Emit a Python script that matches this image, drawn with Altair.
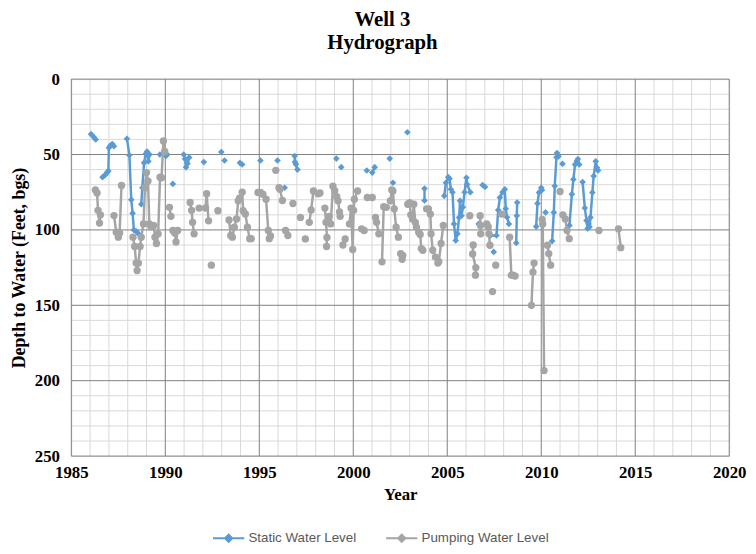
import altair as alt
import pandas as pd

SERIES = ["Static Water Level", "Pumping Water Level"]
COLORS = ["#5B9BD5", "#A5A5A5"]

x_ticks = [1985, 1990, 1995, 2000, 2005, 2010, 2015, 2020]
y_ticks = [0, 50, 100, 150, 200, 250]
minor_x = [y for y in range(1985, 2021) if y % 5 != 0]
minor_y = [d for d in range(0, 251, 10) if d % 50 != 0]

# (year, depth) points; each inner list is one connected run of the series
static_segments = [
    [(1986.05, 36.5), (1986.2, 38.5), (1986.3, 40.0)],
    [(1986.66, 65.0), (1986.8, 63.5), (1986.9, 62.0), (1986.97, 61.0), (1987.0, 45.5), (1987.08, 44.0), (1987.18, 43.0), (1987.27, 44.5)],
    [(1987.96, 39.5), (1988.09, 50.5), (1988.19, 80.0), (1988.26, 89.0), (1988.33, 100.0), (1988.45, 101.0), (1988.57, 102.5)],
    [(1988.72, 83.0), (1988.78, 72.0), (1988.87, 55.5), (1988.96, 49.5), (1989.03, 48.0), (1989.1, 54.5), (1989.16, 50.0)],
    [(1989.71, 50.0)],
    [(1989.98, 48.5), (1990.03, 51.0), (1990.1, 50.0)],
    [(1990.4, 69.5)],
    [(1990.98, 50.0), (1991.05, 53.0), (1991.1, 58.5), (1991.18, 56.0), (1991.27, 52.0)],
    [(1992.05, 55.0)],
    [(1992.98, 48.3)],
    [(1993.15, 54.0)],
    [(1993.97, 55.5), (1994.09, 56.6)],
    [(1995.06, 54.0)],
    [(1995.97, 54.0)],
    [(1996.35, 72.0)],
    [(1996.88, 51.0), (1996.9, 55.0), (1996.95, 56.5), (1997.03, 60.0)],
    [(1999.1, 52.7)],
    [(1999.36, 58.4)],
    [(2000.72, 60.6)],
    [(2001.01, 62.0), (2001.14, 58.4)],
    [(2001.94, 52.7)],
    [(2002.11, 68.7)],
    [(2002.88, 35.2)],
    [(2003.79, 72.5), (2003.79, 80.5)],
    [(2004.84, 77.4), (2004.93, 68.7), (2005.05, 65.0), (2005.12, 66.0), (2005.19, 73.0), (2005.28, 75.0), (2005.36, 96.0),
     (2005.45, 107.0), (2005.54, 102.6), (2005.63, 91.7), (2005.68, 80.7), (2005.76, 90.6), (2005.83, 85.0), (2005.92, 75.0),
     (2006.02, 65.4), (2006.06, 69.8), (2006.23, 75.0)],
    [(2006.67, 96.0)],
    [(2006.88, 70.2), (2007.01, 71.5)],
    [(2007.3, 103.7), (2007.62, 103.7), (2007.71, 86.8), (2007.8, 78.5), (2007.94, 75.0), (2008.06, 73.0), (2008.11, 86.0),
     (2008.18, 91.6), (2008.28, 96.0)],
    [(2007.47, 114.6)],
    [(2008.72, 81.8), (2008.7, 90.6), (2008.67, 108.7)],
    [(2009.73, 97.8), (2009.8, 82.5), (2009.88, 75.2), (2010.0, 72.0), (2010.04, 73.5)],
    [(2010.23, 88.4)],
    [(2010.58, 107.4), (2010.67, 88.4), (2010.72, 70.9), (2010.81, 51.8), (2010.84, 49.0), (2010.92, 51.2)],
    [(2011.13, 56.2)],
    [(2011.5, 97.0), (2011.63, 76.3), (2011.71, 66.5), (2011.8, 56.6), (2011.89, 54.5), (2011.95, 53.0), (2012.02, 56.6)],
    [(2012.2, 68.2), (2012.32, 85.5), (2012.41, 93.8), (2012.47, 99.0), (2012.52, 96.0), (2012.57, 98.0), (2012.62, 91.7),
     (2012.72, 75.2), (2012.79, 64.3), (2012.9, 54.5), (2012.97, 58.8), (2013.02, 60.6)],
]

pumping_segments = [
    [(1986.28, 73.5), (1986.37, 75.5), (1986.42, 87.0), (1986.5, 95.5), (1986.55, 90.0)],
    [(1987.27, 90.5), (1987.39, 101.5), (1987.5, 104.8), (1987.57, 102.0), (1987.67, 70.5)],
    [(1988.28, 104.8), (1988.37, 111.0), (1988.45, 122.0), (1988.5, 127.0), (1988.57, 122.0), (1988.66, 111.0), (1988.72, 104.8),
     (1988.84, 96.0), (1988.92, 72.0), (1989.0, 62.0), (1989.08, 67.6), (1989.15, 96.0), (1989.24, 98.0)],
    [(1989.38, 97.0), (1989.45, 104.8), (1989.53, 109.0), (1989.62, 102.6), (1989.72, 65.0), (1989.8, 65.4), (1989.9, 41.0), (1989.97, 48.0)],
    [(1990.22, 85.0), (1990.3, 91.0)],
    [(1990.4, 100.4), (1990.5, 102.0), (1990.57, 108.0), (1990.66, 100.4)],
    [(1991.32, 81.8), (1991.4, 87.0), (1991.45, 95.0), (1991.53, 102.6)],
    [(1991.8, 85.5), (1992.14, 85.5), (1992.2, 76.0), (1992.3, 94.0)],
    [(1992.45, 123.4)],
    [(1992.8, 87.3)],
    [(1993.39, 93.4), (1993.48, 103.7), (1993.57, 104.8), (1993.67, 98.2), (1993.79, 92.7), (1993.88, 80.7), (1993.95, 79.0),
     (1994.09, 75.0), (1994.14, 87.3), (1994.26, 89.4), (1994.37, 98.2), (1994.49, 105.8), (1994.57, 105.8)],
    [(1994.93, 75.2), (1995.06, 75.2), (1995.19, 76.3), (1995.36, 79.6), (1995.48, 100.4), (1995.53, 105.8), (1995.6, 104.0)],
    [(1995.88, 60.5)],
    [(1996.05, 72.0), (1996.1, 73.0), (1996.23, 80.5)],
    [(1996.4, 100.4), (1996.52, 103.7)],
    [(1996.79, 82.5)],
    [(1997.19, 91.7)],
    [(1997.45, 106.0)],
    [(1997.66, 95.0), (1997.76, 86.8), (1997.88, 74.2)],
    [(1998.13, 76.0), (1998.23, 75.5)],
    [(1998.49, 85.5), (1998.55, 95.0), (1998.6, 105.0), (1998.58, 111.0)],
    [(1998.72, 91.0), (1998.8, 96.0), (1998.92, 71.0), (1999.01, 74.0), (1999.12, 78.0), (1999.19, 80.7), (1999.27, 88.0), (1999.3, 91.0)],
    [(1999.45, 110.0), (1999.57, 106.0)],
    [(1999.8, 96.0), (1999.88, 85.5), (1999.97, 113.0), (2000.02, 87.0), (2000.06, 79.6), (2000.23, 74.2)],
    [(2000.44, 99.3), (2000.58, 100.4)],
    [(2000.75, 78.5), (2001.01, 78.5)],
    [(2001.18, 91.7), (2001.24, 95.0), (2001.36, 102.6)],
    [(2001.53, 121.2), (2001.62, 84.6), (2001.76, 85.0)],
    [(2001.97, 80.7), (2002.05, 73.5), (2002.11, 74.2), (2002.18, 86.0), (2002.28, 98.2), (2002.4, 104.8)],
    [(2002.52, 115.7), (2002.6, 119.5), (2002.63, 117.0)],
    [(2002.9, 83.0), (2003.0, 82.0), (2003.06, 90.0), (2003.15, 92.7), (2003.22, 83.0), (2003.3, 95.0), (2003.36, 98.2),
     (2003.48, 101.5), (2003.56, 103.0), (2003.62, 112.4), (2003.7, 113.5)],
    [(2003.9, 86.0), (2004.0, 86.0), (2004.1, 89.5), (2004.14, 102.6), (2004.23, 113.5), (2004.37, 118.0), (2004.5, 122.0),
     (2004.55, 121.0), (2004.67, 109.0), (2004.79, 97.0)],
    [(2006.2, 90.6)],
    [(2006.38, 110.0), (2006.35, 116.0), (2006.52, 125.0), (2006.5, 130.0)],
    [(2006.75, 90.6), (2006.77, 97.0), (2006.78, 102.6)],
    [(2007.1, 96.0), (2007.18, 98.0), (2007.22, 102.6), (2007.27, 110.2)],
    [(2007.41, 140.9)],
    [(2007.58, 123.4)],
    [(2007.9, 89.5)],
    [(2008.32, 104.8), (2008.41, 130.0), (2008.5, 130.0), (2008.61, 130.6)],
    [(2009.62, 122.0), (2009.56, 128.0), (2009.48, 150.0)],
    [(2010.05, 93.0), (2010.08, 96.0), (2010.15, 193.3)],
    [(2010.33, 110.2), (2010.4, 115.7), (2010.5, 123.4)],
    [(2011.0, 74.5)],
    [(2011.15, 90.0), (2011.28, 92.7), (2011.37, 100.4), (2011.49, 105.8)],
    [(2013.07, 100.4)],
    [(2014.11, 99.3), (2014.23, 111.8)],
]

rows = []
for name, segs in zip(SERIES, [static_segments, pumping_segments]):
    for s, seg in enumerate(segs):
        for i, (yr, d) in enumerate(seg):
            rows.append({"series": name, "seg": f"{name} {s}", "idx": i, "year": yr, "depth": d})
data = pd.DataFrame(rows)

SERIF = "Liberation Serif"

xscale = alt.Scale(domain=[1985, 2020], nice=False, zero=False)
yscale = alt.Scale(domain=[0, 250], reverse=True, nice=False, zero=False)

xaxis = alt.Axis(values=x_ticks, format="d", grid=False, ticks=False, domain=False, labelFlush=False,
                 labelFont=SERIF, labelFontWeight="bold", labelFontSize=17, labelColor="black",
                 labelPadding=9, title="Year", titleFont=SERIF, titleFontWeight="bold",
                 titleFontSize=17, titleColor="black", titlePadding=6)
yaxis = alt.Axis(values=y_ticks, format="d", grid=False, ticks=False, domain=False,
                 labelFont=SERIF, labelFontWeight="bold", labelFontSize=17, labelColor="black",
                 labelPadding=12, title="Depth to Water (Feet, bgs)", titleFont=SERIF,
                 titleFontWeight="bold", titleFontSize=18, titleColor="black", titlePadding=6)

X = alt.X("year:Q", scale=xscale, axis=xaxis)
Y = alt.Y("depth:Q", scale=yscale, axis=yaxis)

minor_v = alt.Chart(pd.DataFrame({"year": minor_x})).mark_rule(color="#D9D9D9", strokeWidth=1).encode(x=X)
minor_h = alt.Chart(pd.DataFrame({"depth": minor_y})).mark_rule(color="#D9D9D9", strokeWidth=1).encode(y=Y)
major_v = alt.Chart(pd.DataFrame({"year": x_ticks})).mark_rule(color="#7F7F7F", strokeWidth=1).encode(x=X)
major_h = alt.Chart(pd.DataFrame({"depth": y_ticks})).mark_rule(color="#7F7F7F", strokeWidth=1).encode(y=Y)

color = alt.Color(
    "series:N",
    scale=alt.Scale(domain=SERIES, range=COLORS),
    legend=alt.Legend(
        title=None, orient="none", direction="horizontal", legendX=142, legendY=447,
        symbolType="M-1,0L1,0M0,-0.22L0.22,0L0,0.22L-0.22,0Z", symbolSize=1000,
        symbolStrokeWidth=2.2, labelFont="Liberation Sans", labelFontSize=13.5,
        labelColor="#595959", labelOffset=3, columnPadding=24,
    ),
)

base = alt.Chart(data)
layers = [minor_v, minor_h, major_v, major_h]
for name, shape, size in [(SERIES[0], "diamond", 45), (SERIES[1], "circle", 55)]:
    sub = base.transform_filter(alt.datum.series == name)
    line = sub.mark_line(strokeWidth=2.5, strokeJoin="round", strokeCap="round").encode(
        x=X, y=Y, color=color, detail="seg:N", order="idx:Q")
    pts = sub.mark_point(filled=True, opacity=1, shape=shape, size=size).encode(x=X, y=Y, color=color)
    layers += [line, pts]

chart = alt.layer(*layers).properties(
    width=665, height=381,
    title=alt.TitleParams(text=["Well 3", "Hydrograph"], font=SERIF, fontSize=21, fontWeight="bold",
                          color="black", anchor="middle", dx=-18, offset=17, lineHeight=24),
    padding={"left": 64, "top": 69, "right": 19, "bottom": 88},
    autosize=alt.AutoSizeParams(type="none"),
).configure_view(stroke="#7F7F7F", strokeWidth=1).configure(background="white")

chart.save("out.html", embed_options={"renderer": "svg", "actions": False})
